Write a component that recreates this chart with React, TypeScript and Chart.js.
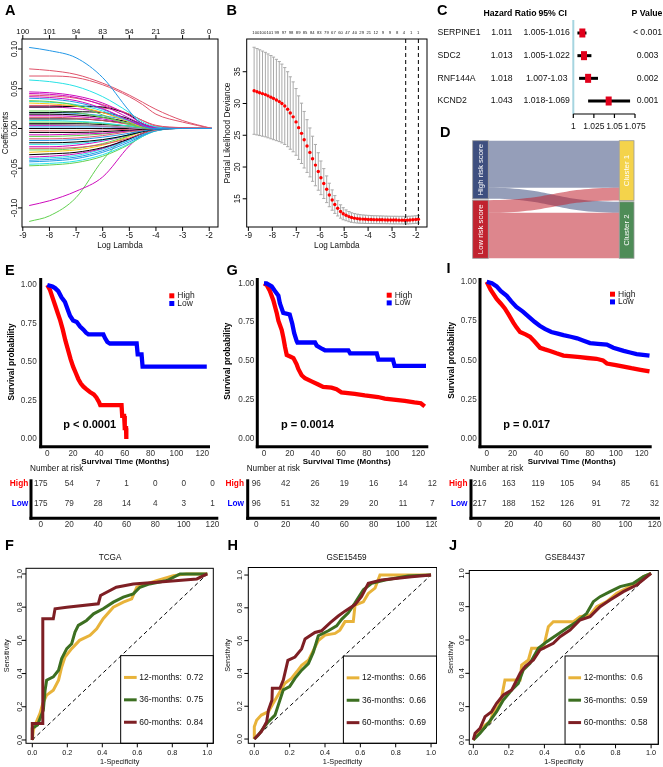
import React, { useEffect, useRef } from "react";
import { Chart, registerables } from "chart.js";

Chart.register(...registerables);

const FONT = "'Liberation Sans', Arial, Helvetica, sans-serif";
const HALF_PI = Math.PI / 2;

/* ============================ DATA ============================ */
// ---- A: LASSO coefficient paths (values at the log-lambda grid) ----
const lassoLogLambda = [-8.76, -8, -7, -6, -5, -4.5, -4, -3, -1.9];
const lassoPaths = [
  [0.102, 0.098, 0.089, 0.064, 0.022, 0.004, 0, 0, 0],
  [0.075, 0.073, 0.068, 0.057, 0.042, 0.033, 0.024, 0.01, 0],
  [0.066, 0.066, 0.064, 0.055, 0.04, 0.03, 0.018, 0.008, 0],
  [0.061, 0.059, 0.053, 0.04, 0.02, 0.008, 0.002, 0, 0],
  [0.046, 0.045, 0.041, 0.032, 0.016, 0.006, 0.001, 0, 0],
  [0.044, 0.043, 0.039, 0.029, 0.013, 0.005, 0.001, 0, 0],
  [0.042, 0.041, 0.038, 0.03, 0.018, 0.01, 0.004, 0.001, 0],
  [0.04, 0.039, 0.035, 0.025, 0.01, 0.003, 0, 0, 0],
  [0.038, 0.037, 0.033, 0.024, 0.01, 0.003, 0, 0, 0],
  [0.035, 0.034, 0.029, 0.017, 0.005, 0.001, 0, 0, 0],
  [0.034, 0.033, 0.03, 0.022, 0.009, 0.003, 0, 0, 0],
  [0.032, 0.031, 0.028, 0.02, 0.008, 0.002, 0, 0, 0],
  [0.027, 0.027, 0.028, 0.027, 0.017, 0.006, 0.001, 0, 0],
  [0.029, 0.029, 0.028, 0.026, 0.018, 0.01, 0.003, 0.001, 0],
  [0.027, 0.027, 0.025, 0.02, 0.01, 0.004, 0.001, 0, 0],
  [0.02, 0.02, 0.021, 0.02, 0.012, 0.005, 0.001, 0, 0],
  [0.022, 0.022, 0.02, 0.014, 0.006, 0.002, 0, 0, 0],
  [0.02, 0.02, 0.019, 0.016, 0.01, 0.005, 0.002, 0, 0],
  [0.018, 0.018, 0.017, 0.014, 0.008, 0.004, 0.001, 0, 0],
  [0.016, 0.016, 0.015, 0.012, 0.006, 0.002, 0, 0, 0],
  [0.014, 0.014, 0.013, 0.01, 0.005, 0.002, 0, 0, 0],
  [0.012, 0.012, 0.012, 0.01, 0.006, 0.003, 0.001, 0, 0],
  [0.01, 0.01, 0.009, 0.007, 0.003, 0.001, 0, 0, 0],
  [0.008, 0.008, 0.008, 0.006, 0.003, 0.001, 0, 0, 0],
  [0.006, 0.006, 0.006, 0.005, 0.003, 0.001, 0, 0, 0],
  [0.005, 0.005, 0.004, 0.003, 0.001, 0, 0, 0, 0],
  [0.004, 0.004, 0.004, 0.003, 0.001, 0, 0, 0, 0],
  [0.002, 0.002, 0.002, 0.002, 0.001, 0, 0, 0, 0],
  [0, 0, 0, 0, 0, 0, 0, 0, 0],
  [-0.003, -0.003, -0.003, -0.002, -0.001, 0, 0, 0, 0],
  [-0.005, -0.005, -0.005, -0.004, -0.002, -0.001, 0, 0, 0],
  [-0.008, -0.008, -0.007, -0.006, -0.003, -0.001, 0, 0, 0],
  [-0.01, -0.01, -0.009, -0.007, -0.003, -0.001, 0, 0, 0],
  [-0.013, -0.013, -0.012, -0.009, -0.004, -0.002, 0, 0, 0],
  [-0.015, -0.015, -0.014, -0.011, -0.006, -0.003, -0.001, 0, 0],
  [-0.018, -0.018, -0.017, -0.014, -0.008, -0.004, -0.001, 0, 0],
  [-0.02, -0.02, -0.019, -0.015, -0.008, -0.004, -0.001, 0, 0],
  [-0.023, -0.023, -0.021, -0.016, -0.008, -0.003, 0, 0, 0],
  [-0.025, -0.025, -0.024, -0.02, -0.012, -0.006, -0.002, 0, 0],
  [-0.027, -0.027, -0.025, -0.019, -0.009, -0.003, 0, 0, 0],
  [-0.03, -0.029, -0.027, -0.021, -0.01, -0.004, 0, 0, 0],
  [-0.033, -0.032, -0.03, -0.024, -0.013, -0.006, -0.001, 0, 0],
  [-0.036, -0.035, -0.032, -0.025, -0.013, -0.006, -0.001, 0, 0],
  [-0.038, -0.037, -0.034, -0.026, -0.014, -0.007, -0.002, 0, 0],
  [-0.04, -0.039, -0.036, -0.028, -0.015, -0.008, -0.002, 0, 0],
  [-0.042, -0.041, -0.038, -0.03, -0.017, -0.009, -0.003, 0, 0],
  [-0.045, -0.044, -0.041, -0.033, -0.019, -0.01, -0.003, 0, 0],
  [-0.047, -0.046, -0.043, -0.035, -0.02, -0.01, -0.003, 0, 0],
  [-0.097, -0.091, -0.079, -0.061, -0.022, -0.008, -0.002, 0, 0],
  [-0.117, -0.11, -0.087, -0.04, -0.007, -0.002, 0, 0, 0],
];
const lassoPathColor = "brrcmmrmbgcykrmkgbkmrkcgkambkrkmgrbkcmrgykmcbbcgmg";
const lassoXTicks = [-9, -8, -7, -6, -5, -4, -3, -2];
const lassoTopLabels = ["100", "101", "94", "83", "54", "21", "8", "0"];
const lassoYTicks = [-0.1, -0.05, 0, 0.05, 0.1];

// ---- B: cross-validation deviance ----
const cvLogLambda = [
  -8.76, -8.64, -8.53, -8.41, -8.29, -8.18, -8.06, -7.95, -7.83, -7.71,
  -7.6, -7.48, -7.36, -7.25, -7.13, -7.01, -6.9, -6.78, -6.67, -6.55,
  -6.43, -6.32, -6.2, -6.08, -5.97, -5.85, -5.73, -5.62, -5.5, -5.39,
  -5.27, -5.15, -5.04, -4.92, -4.8, -4.69, -4.57, -4.45, -4.34, -4.22,
  -4.11, -3.99, -3.87, -3.76, -3.64, -3.52, -3.41, -3.29, -3.18, -3.06,
  -2.94, -2.83, -2.71, -2.59, -2.48, -2.36, -2.25, -2.13, -2.01, -1.9,
];
const cvMean = [
  32.0, 31.85, 31.7, 31.55, 31.4, 31.2, 31.0, 30.8, 30.55, 30.3,
  30.0, 29.6, 29.1, 28.5, 27.9, 27.1, 26.2, 25.3, 24.3, 23.3,
  22.3, 21.3, 20.3, 19.3, 18.3, 17.4, 16.5, 15.6, 14.8, 14.1,
  13.5, 13.0, 12.65, 12.4, 12.2, 12.05, 11.95, 11.88, 11.83, 11.8,
  11.77, 11.75, 11.73, 11.72, 11.71, 11.7, 11.69, 11.68, 11.67, 11.66,
  11.65, 11.65, 11.64, 11.64, 11.63, 11.64, 11.66, 11.69, 11.73, 11.78,
];
const cvSd = [
  6.85, 6.8, 6.75, 6.7, 6.65, 6.6, 6.55, 6.5, 6.4, 6.3,
  6.2, 6.05, 5.9, 5.7, 5.5, 5.25, 5.0, 4.75, 4.45, 4.15,
  3.85, 3.55, 3.25, 2.95, 2.65, 2.35, 2.1, 1.85, 1.6, 1.4,
  1.2, 1.05, 0.95, 0.85, 0.8, 0.75, 0.72, 0.7, 0.68, 0.66,
  0.65, 0.64, 0.63, 0.62, 0.62, 0.61, 0.61, 0.6, 0.6, 0.6,
  0.6, 0.6, 0.6, 0.6, 0.6, 0.6, 0.6, 0.6, 0.6, 0.6,
];
const cvTopAt = [
  -8.69, -8.4, -8.1, -7.81, -7.51, -7.22, -6.92, -6.63, -6.33, -6.04, -5.74, -5.45,
  -5.15, -4.86, -4.56, -4.27, -3.97, -3.68, -3.38, -3.09, -2.79, -2.5, -2.2, -1.91,
];
const cvTopLabels = [
  "100", "100", "101", "99", "97", "98", "89", "85", "84", "83", "79", "67",
  "60", "47", "40", "29", "21", "12", "9", "9", "8", "4", "1", "1",
];
const cvXTicks = [-9, -8, -7, -6, -5, -4, -3, -2];
const cvYTicks = [15, 20, 25, 30, 35];
const cvCutoffs = [-2.43, -1.9];

// ---- C: multivariate Cox forest ----
const forestGenes = ["SERPINE1", "SDC2", "RNF144A", "KCND2"];
const forestHR = [1.011, 1.013, 1.018, 1.043];
const forestLow = [1.005, 1.005, 1.007, 1.018];
const forestHigh = [1.016, 1.022, 1.03, 1.069];
const forestP = ["< 0.001", "0.003", "0.002", "0.001"];
const forestTicks = [1, 1.025, 1.05, 1.075];

// ---- D: risk group -> cluster alluvial ----
const riskGroups = ["High risk score", "Low risk score"];
const clusterNames = ["Cluster 1", "Cluster 2"];
const flowHigh = [142, 33];
const flowLow = [38, 137];

// ---- E, G, I: Kaplan-Meier ----
const kmXTicks = [0, 20, 40, 60, 80, 100, 120];
const kmYTicks = [0, 0.25, 0.5, 0.75, 1];
const tcgaHighT = [0, 2, 4, 6, 8, 10, 12, 14, 16, 18, 20, 22, 24, 26, 28, 30, 33, 36, 38, 40, 41, 57.5, 58, 59.5, 60, 61, 61.2];
const tcgaHighS = [1.0, 0.97, 0.92, 0.87, 0.82, 0.77, 0.71, 0.64, 0.58, 0.52, 0.47, 0.43, 0.39, 0.36, 0.34, 0.325, 0.305, 0.29, 0.27, 0.24, 0.22, 0.22, 0.15, 0.15, 0.07, 0.07, 0.0];
const tcgaLowT = [0, 4, 6, 8.5, 11, 13.7, 16.3, 17.6, 20, 22.8, 25.4, 28, 30, 31.8, 43.4, 44.7, 46.5, 48.5, 69.2, 70, 73, 73.8, 123.5];
const tcgaLowS = [1.0, 0.99, 0.98, 0.96, 0.92, 0.89, 0.83, 0.8, 0.77, 0.76, 0.73, 0.71, 0.69, 0.68, 0.68, 0.655, 0.63, 0.62, 0.62, 0.55, 0.55, 0.47, 0.47];
const g15HighT = [0, 2, 4.6, 7.3, 9.9, 11.2, 13.8, 15.1, 16.4, 17.7, 20.3, 22.9, 25.4, 26.7, 29.3, 31.9, 37, 42.2, 46, 52.5, 56.4, 60.2, 70.6, 78.4, 88.7, 94, 109.5, 117, 122, 125];
const g15HighS = [1.0, 0.99, 0.95, 0.89, 0.81, 0.76, 0.7, 0.65, 0.59, 0.54, 0.53, 0.52, 0.48, 0.45, 0.41, 0.39, 0.37, 0.35, 0.335, 0.33, 0.32, 0.3, 0.29, 0.28, 0.27, 0.26, 0.245, 0.235, 0.23, 0.21];
const g15LowT = [0, 2, 6, 8.5, 11.2, 12.4, 15, 20, 22, 23.5, 25.4, 26, 39.7, 41, 45, 47.4, 65.6, 67, 87.7, 89, 100.3, 101.6, 126];
const g15LowS = [1.0, 1.0, 0.98, 0.95, 0.92, 0.87, 0.81, 0.8, 0.74, 0.68, 0.63, 0.62, 0.62, 0.6, 0.58, 0.57, 0.57, 0.55, 0.55, 0.51, 0.51, 0.47, 0.47];
const g84HighT = [0, 3, 7.7, 11, 14, 17, 20.6, 23, 25.8, 30, 33.5, 37, 41.3, 45, 49, 54, 59.4, 66, 72.3, 78, 85, 90, 93, 100, 106, 112, 119, 126];
const g84HighS = [1.0, 0.95, 0.89, 0.86, 0.83, 0.79, 0.74, 0.71, 0.68, 0.665, 0.65, 0.62, 0.58, 0.57, 0.56, 0.545, 0.53, 0.525, 0.52, 0.515, 0.51, 0.5, 0.48, 0.47, 0.46, 0.45, 0.44, 0.43];
const g84LowT = [0, 4, 7.7, 11, 15.5, 19, 23, 28, 33.5, 37, 41, 45, 50, 55, 59.4, 65, 70, 75, 80, 86, 93, 98, 106, 111, 116, 121, 126];
const g84LowS = [1.0, 0.99, 0.97, 0.94, 0.91, 0.875, 0.84, 0.81, 0.77, 0.745, 0.72, 0.7, 0.68, 0.67, 0.66, 0.65, 0.64, 0.625, 0.61, 0.605, 0.6, 0.58, 0.56, 0.55, 0.54, 0.535, 0.53];

// ---- risk tables ----
const riskTimes = [0, 20, 40, 60, 80, 100, 120];
const tcgaAtRiskHigh = [175, 54, 7, 1, 0, 0, 0];
const tcgaAtRiskLow = [175, 79, 28, 14, 4, 3, 1];
const g15AtRiskHigh = [96, 42, 26, 19, 16, 14, 12];
const g15AtRiskLow = [96, 51, 32, 29, 20, 11, 7];
const g84AtRiskHigh = [216, 163, 119, 105, 94, 85, 61];
const g84AtRiskLow = [217, 188, 152, 126, 91, 72, 32];

// ---- F, H, J: time-dependent ROC ----
const rocTicks = [0, 0.2, 0.4, 0.6, 0.8, 1];
const rocMonths = [12, 36, 60];
const tcga12Fpr = [0, 0.006, 0.02, 0.044, 0.06, 0.082, 0.12, 0.15, 0.168, 0.187, 0.225, 0.27, 0.33, 0.368, 0.405, 0.463, 0.52, 0.568, 0.597, 0.654, 0.71, 0.806, 0.88, 1];
const tcga12Tpr = [0, 0.06, 0.1, 0.16, 0.22, 0.27, 0.3, 0.36, 0.44, 0.5, 0.55, 0.6, 0.63, 0.67, 0.73, 0.8, 0.83, 0.85, 0.92, 0.94, 0.96, 0.99, 1, 1];
const tcga36Fpr = [0, 0, 0.03, 0.063, 0.073, 0.082, 0.12, 0.15, 0.168, 0.197, 0.225, 0.244, 0.263, 0.31, 0.35, 0.405, 0.463, 0.52, 0.577, 0.615, 0.67, 0.77, 0.844, 1];
const tcga36Tpr = [0, 0.07, 0.09, 0.18, 0.3, 0.36, 0.38, 0.42, 0.49, 0.55, 0.58, 0.65, 0.69, 0.72, 0.76, 0.79, 0.83, 0.86, 0.88, 0.92, 0.94, 0.96, 1, 1];
const tcga60Fpr = [0, 0, 0.06, 0.06, 0.12, 0.13, 0.197, 0.377, 0.39, 0.48, 0.577, 0.71, 0.94, 1];
const tcga60Tpr = [0, 0.1, 0.1, 0.73, 0.73, 0.79, 0.8, 0.82, 0.87, 0.92, 0.94, 0.95, 0.97, 1];
const tcgaAuc = [0.72, 0.75, 0.84];
const g15_12Fpr = [0, 0, 0.013, 0.04, 0.08, 0.107, 0.145, 0.173, 0.21, 0.24, 0.268, 0.306, 0.334, 0.362, 0.4, 0.457, 0.484, 0.513, 0.56, 0.57, 0.617, 0.645, 0.683, 0.711, 1];
const g15_12Tpr = [0, 0.075, 0.115, 0.146, 0.167, 0.218, 0.289, 0.34, 0.37, 0.41, 0.45, 0.48, 0.54, 0.6, 0.634, 0.644, 0.664, 0.716, 0.716, 0.817, 0.837, 0.888, 0.92, 1, 1];
const g15_36Fpr = [0, 0.023, 0.05, 0.08, 0.117, 0.145, 0.164, 0.2, 0.23, 0.268, 0.306, 0.334, 0.362, 0.419, 0.466, 0.494, 0.532, 0.57, 0.617, 0.664, 0.74, 0.87, 1];
const g15_36Tpr = [0, 0.024, 0.065, 0.106, 0.146, 0.238, 0.3, 0.32, 0.37, 0.42, 0.46, 0.53, 0.63, 0.66, 0.69, 0.73, 0.77, 0.83, 0.91, 0.95, 0.97, 0.994, 1];
const g15_60Fpr = [0, 0.04, 0.07, 0.08, 0.1, 0.102, 0.145, 0.164, 0.19, 0.23, 0.268, 0.287, 0.343, 0.38, 0.43, 0.475, 0.513, 0.57, 0.607, 0.645, 0.72, 0.89, 1];
const g15_60Tpr = [0, 0.045, 0.106, 0.177, 0.238, 0.31, 0.31, 0.36, 0.48, 0.5, 0.55, 0.61, 0.65, 0.66, 0.71, 0.75, 0.78, 0.82, 0.87, 0.95, 0.97, 0.99, 1];
const g15Auc = [0.66, 0.66, 0.69];
const g84_12Fpr = [0, 0.02, 0.047, 0.066, 0.094, 0.113, 0.141, 0.16, 0.178, 0.263, 0.272, 0.31, 0.328, 0.394, 0.422, 0.45, 0.563, 0.6, 0.657, 0.694, 0.75, 0.807, 0.88, 0.957, 1];
const g84_12Tpr = [0, 0.03, 0.06, 0.09, 0.11, 0.17, 0.2, 0.26, 0.36, 0.36, 0.45, 0.48, 0.55, 0.55, 0.68, 0.71, 0.71, 0.74, 0.75, 0.8, 0.83, 0.88, 0.92, 0.98, 1];
const g84_36Fpr = [0, 0.038, 0.084, 0.131, 0.169, 0.216, 0.253, 0.281, 0.319, 0.366, 0.413, 0.469, 0.525, 0.582, 0.638, 0.675, 0.713, 0.769, 0.826, 0.9, 0.957, 1];
const g84_36Tpr = [0, 0.04, 0.1, 0.17, 0.24, 0.3, 0.34, 0.42, 0.46, 0.55, 0.59, 0.63, 0.67, 0.71, 0.76, 0.83, 0.86, 0.89, 0.92, 0.94, 0.98, 1];
const g84_60Fpr = [0, 0.01, 0.038, 0.066, 0.103, 0.131, 0.169, 0.216, 0.263, 0.291, 0.338, 0.375, 0.45, 0.488, 0.544, 0.6, 0.657, 0.713, 0.769, 0.844, 0.919, 1];
const g84_60Tpr = [0, 0.04, 0.07, 0.14, 0.17, 0.22, 0.27, 0.3, 0.4, 0.44, 0.48, 0.54, 0.58, 0.62, 0.66, 0.72, 0.74, 0.8, 0.84, 0.89, 0.93, 1];
const g84Auc = [0.6, 0.59, 0.58];

/* ============================ STYLE ============================ */
const PAL: any = { k: "#000000", r: "#DF536B", g: "#61D04F", b: "#2297E6", c: "#28E2E5", m: "#CD0BBC", y: "#F5C710", a: "#9E9E9E" };
const KM_HIGH = "#FF0000";
const KM_LOW = "#0000FF";
const ROC_COLORS = ["#E8B33A", "#3C6F21", "#7E1F24"];
const NODE_COLORS_L = ["#3E4F7F", "#C1232F"];
const NODE_COLORS_R = ["#F4D34B", "#4E8C57"];

/* ============================ HELPERS ============================ */
type Box = { x: number; y: number; w: number; h: number; area: number[] };
type D = { ctx: CanvasRenderingContext2D; X: (v: number) => number; Y: (v: number) => number };

function txt(ctx: CanvasRenderingContext2D, s: string, x: number, y: number, size: number, o: any = {}) {
  ctx.save();
  ctx.font = `${o.bold ? "bold " : ""}${size}px ${FONT}`;
  ctx.fillStyle = o.color || "#000";
  ctx.textAlign = o.align || "center";
  ctx.textBaseline = o.base || "middle";
  ctx.translate(x, y);
  if (o.rot) ctx.rotate(o.rot);
  ctx.fillText(s, 0, 0);
  ctx.restore();
}

function seg(ctx: CanvasRenderingContext2D, x1: number, y1: number, x2: number, y2: number, color = "#000", w = 1, dash: number[] = []) {
  ctx.save();
  ctx.beginPath();
  ctx.strokeStyle = color;
  ctx.lineWidth = w;
  ctx.setLineDash(dash);
  ctx.moveTo(x1, y1);
  ctx.lineTo(x2, y2);
  ctx.stroke();
  ctx.restore();
}

function letter(ctx: CanvasRenderingContext2D, s: string, x: number, y: number) {
  txt(ctx, s, x, y, 14.5, { bold: true, align: "left", base: "alphabetic" });
}

function rFrame(d: D, area: number[], xt: number[], yt: number[], fx: (v: number) => string, fy: (v: number) => string, o: any) {
  const [L, T, R, B] = area;
  const ctx = d.ctx;
  const tk = o.tick ?? 4;
  ctx.save();
  ctx.strokeStyle = "#000";
  ctx.lineWidth = 1;
  ctx.strokeRect(L, T, R - L, B - T);
  ctx.restore();
  xt.forEach((v) => {
    const x = d.X(v);
    seg(ctx, x, B, x, B + tk);
    txt(ctx, fx(v), x, o.xLabY, o.fs, { color: o.color || "#111" });
  });
  yt.forEach((v) => {
    const y = d.Y(v);
    seg(ctx, L - tk, y, L, y);
    txt(ctx, fy(v), o.yLabX, y, o.fs, { rot: -HALF_PI, color: o.color || "#111" });
  });
}

function baseConfig(box: Box, xr: number[], yr: number[], datasets: any[], draw: (d: D) => void, extra: any = {}) {
  const [L, T, R, B] = box.area;
  const hook = (fn: (d: D) => void) => (chart: any) => {
    const ctx = chart.ctx as CanvasRenderingContext2D;
    ctx.save();
    ctx.translate(-box.x, -box.y);
    const X = (v: number) => chart.scales.x.getPixelForValue(v) + box.x;
    const Y = (v: number) => chart.scales.y.getPixelForValue(v) + box.y;
    fn({ ctx, X, Y });
    ctx.restore();
  };
  const plugin: any = { id: "deco", afterDraw: hook(draw) };
  if (extra.under) plugin.beforeDatasetsDraw = hook(extra.under);
  return {
    type: "line",
    data: { datasets },
    options: {
      responsive: false,
      maintainAspectRatio: false,
      animation: false,
      devicePixelRatio: 1,
      events: [],
      layout: { padding: { left: L - box.x, top: T - box.y, right: box.x + box.w - R, bottom: box.y + box.h - B } },
      elements: { point: { radius: 0 }, line: { tension: 0 } },
      plugins: { legend: { display: false }, tooltip: { enabled: false }, title: { display: false } },
      scales: {
        x: { type: "linear", display: false, min: xr[0], max: xr[1] },
        y: { type: "linear", display: false, min: yr[0], max: yr[1], reverse: !!extra.reverseY },
      },
    },
    plugins: [plugin],
  };
}

function ChartBox({ box, build }: { box: Box; build: (b: Box) => any }) {
  const ref = useRef<HTMLCanvasElement | null>(null);
  useEffect(() => {
    const chart = new Chart(ref.current as HTMLCanvasElement, build(box));
    return () => chart.destroy();
  }, []);
  return (
    <canvas
      ref={ref}
      width={box.w}
      height={box.h}
      style={{ position: "absolute", left: box.x, top: box.y, width: box.w, height: box.h }}
    />
  );
}

/* ============================ PANELS ============================ */
const boxA: Box = { x: 0, y: 0, w: 222, h: 252, area: [22, 39, 218, 227] };
function buildA(b: Box) {
  const datasets = lassoPaths.map((p, i) => ({
    data: p.map((v, j) => ({ x: lassoLogLambda[j], y: v })),
    borderColor: PAL[lassoPathColor[i]],
    borderWidth: 1,
    cubicInterpolationMode: "monotone",
  }));
  return baseConfig(b, [-9.03, -1.67], [-0.124, 0.1126], datasets, (d) => {
    const { ctx } = d;
    const [L, T, R, B] = b.area;
    rFrame(d, b.area, lassoXTicks, lassoYTicks, (v) => String(v), (v) => v.toFixed(2), { fs: 8.2, xLabY: 236, yLabX: 14.5 });
    lassoXTicks.forEach((v, i) => {
      const x = d.X(v);
      seg(ctx, x, T, x, T - 4);
      txt(ctx, lassoTopLabels[i], x, 32, 7.8, { color: "#111" });
    });
    txt(ctx, "Log Lambda", (L + R) / 2, 245.5, 8.2, { color: "#111" });
    txt(ctx, "Coefficients", 5.5, (T + B) / 2, 8.2, { rot: -HALF_PI, color: "#111" });
    letter(ctx, "A", 5, 15);
  });
}

const boxB: Box = { x: 222, y: 0, w: 218, h: 252, area: [246.7, 39, 427, 227] };
function buildB(b: Box) {
  const datasets = [
    {
      data: cvLogLambda.map((x, i) => ({ x, y: cvMean[i] })),
      showLine: false,
      pointRadius: 1.7,
      pointBackgroundColor: "#FF0000",
      pointBorderWidth: 0,
    },
  ];
  return baseConfig(
    b,
    [-9.07, -1.54],
    [10.56, 40.15],
    datasets,
    (d) => {
      const { ctx } = d;
      const [L, T, R, B] = b.area;
      rFrame(d, b.area, cvXTicks, cvYTicks, (v) => String(v), (v) => String(v), { fs: 8.2, xLabY: 236, yLabX: 238 });
      cvCutoffs.forEach((v) => seg(ctx, d.X(v), T, d.X(v), B, "#000", 1, [4, 3]));
      cvTopAt.forEach((v, i) => txt(ctx, cvTopLabels[i], d.X(v), 33, 4.2, { color: "#222" }));
      txt(ctx, "Log Lambda", (L + R) / 2, 245.5, 8.2, { color: "#111" });
      txt(ctx, "Partial Likelihood Deviance", 227.3, (T + B) / 2, 8.4, { rot: -HALF_PI, color: "#111" });
      letter(ctx, "B", 226.5, 15);
    },
    {
      under: (d: D) => {
        const { ctx } = d;
        cvLogLambda.forEach((lx, i) => {
          const x = d.X(lx);
          const y1 = d.Y(cvMean[i] + cvSd[i]);
          const y2 = d.Y(cvMean[i] - cvSd[i]);
          seg(ctx, x, y1, x, y2, "#AAAAAA", 1);
          seg(ctx, x - 1.6, y1, x + 1.6, y1, "#AAAAAA", 1);
          seg(ctx, x - 1.6, y2, x + 1.6, y2, "#AAAAAA", 1);
        });
      },
    }
  );
}

const boxC: Box = { x: 436, y: 0, w: 227, h: 135, area: [573.3, 20, 635, 114] };
function buildC(b: Box) {
  return baseConfig(
    b,
    [1, 1.075],
    [-0.573, 3.573],
    [],
    (d) => {
      const { ctx } = d;
      const [L, T, R, B] = b.area;
      seg(ctx, d.X(1), T, d.X(1), B, "#A6D5E0", 2);
      forestGenes.forEach((g, i) => {
        const y = d.Y(i);
        seg(ctx, d.X(forestLow[i]), y, d.X(forestHigh[i]), y, "#000", 3);
        ctx.fillStyle = "#E0001B";
        ctx.fillRect(d.X(forestHR[i]) - 3, y - 4.5, 6, 9);
        txt(ctx, g, 437.5, y, 8.7, { align: "left", color: "#111" });
        txt(ctx, String(forestHR[i]), 501.7, y, 8.7, { color: "#111" });
        txt(ctx, `${forestLow[i]}-${forestHigh[i]}`, 546.7, y, 8.7, { color: "#111" });
        txt(ctx, forestP[i], 647.5, y, 8.7, { color: "#111" });
      });
      seg(ctx, d.X(1), B, d.X(1.075), B, "#000", 1.2);
      forestTicks.forEach((v) => {
        const x = d.X(v);
        seg(ctx, x, B, x, B + 4, "#000", 1.2);
        txt(ctx, String(v), x, 127, 8.5, { color: "#111" });
      });
      txt(ctx, "Hazard Ratio", 510, 14, 8.7, { bold: true });
      txt(ctx, "95% CI", 552.7, 14, 8.7, { bold: true });
      txt(ctx, "P Value", 647, 14, 8.7, { bold: true });
      letter(ctx, "C", 437, 15);
    },
    { reverseY: true }
  );
}

const boxD: Box = { x: 436, y: 122, w: 227, h: 140, area: [472.7, 140.7, 634, 258.3] };
const NODE_W = 0.0967;
const RIGHT_X0 = 0.9087;
const NODE_GAP = 4;
function buildD(b: Box) {
  const flows = [flowHigh, flowLow];
  const riskTot = flows.map((f) => f[0] + f[1]);
  const clTot = [0, 1].map((j) => flows[0][j] + flows[1][j]);
  const total = riskTot[0] + riskTot[1] + NODE_GAP;
  return baseConfig(
    b,
    [0, 1],
    [0, total],
    [],
    (d) => {
      const { ctx, X, Y } = d;
      const leftStart = [0, riskTot[0] + NODE_GAP];
      const rightStart = [0, clTot[0] + NODE_GAP];
      const xa = X(NODE_W);
      const xb = X(RIGHT_X0);
      const xm = (xa + xb) / 2;
      flows.forEach((f, i) =>
        f.forEach((n, j) => {
          const l0 = leftStart[i] + (j === 0 ? 0 : f[0]);
          const r0 = rightStart[j] + (i === 0 ? 0 : flows[0][j]);
          ctx.beginPath();
          ctx.moveTo(xa, Y(l0));
          ctx.bezierCurveTo(xm, Y(l0), xm, Y(r0), xb, Y(r0));
          ctx.lineTo(xb, Y(r0 + n));
          ctx.bezierCurveTo(xm, Y(r0 + n), xm, Y(l0 + n), xa, Y(l0 + n));
          ctx.closePath();
          ctx.fillStyle = i === 0 ? "rgba(62,79,127,0.55)" : "rgba(193,35,47,0.55)";
          ctx.fill();
        })
      );
      const node = (x0: number, x1: number, s: number, n: number, col: string, label: string) => {
        const px0 = X(x0), px1 = X(x1), py0 = Y(s), py1 = Y(s + n);
        ctx.fillStyle = col;
        ctx.fillRect(px0, py0, px1 - px0, py1 - py0);
        ctx.strokeStyle = "#9a9a9a";
        ctx.lineWidth = 0.8;
        ctx.strokeRect(px0, py0, px1 - px0, py1 - py0);
        txt(ctx, label, (px0 + px1) / 2, (py0 + py1) / 2, 7.8, { color: "#fff", rot: -HALF_PI });
      };
      riskGroups.forEach((g, i) => node(0, NODE_W, leftStart[i], riskTot[i], NODE_COLORS_L[i], g));
      clusterNames.forEach((c, j) => node(RIGHT_X0, 1, rightStart[j], clTot[j], NODE_COLORS_R[j], c));
      letter(ctx, "D", 440, 137);
    },
    { reverseY: true }
  );
}

function buildKM(b: Box, xr: number[], yr: number[], hiT: number[], hiS: number[], loT: number[], loS: number[], lay: any) {
  const datasets = [
    { data: loT.map((t, i) => ({ x: t, y: loS[i] })), borderColor: KM_LOW, borderWidth: 4.3, order: 1 },
    { data: hiT.map((t, i) => ({ x: t, y: hiS[i] })), borderColor: KM_HIGH, borderWidth: 4.3, order: 2 },
  ];
  return baseConfig(b, xr, yr, datasets, (d) => {
    const { ctx } = d;
    const [L, T, R, B] = b.area;
    seg(ctx, L, T, L, B + 1.5, "#000", 3);
    seg(ctx, L - 1.5, B, R, B, "#000", 3);
    kmYTicks.forEach((v) => txt(ctx, v.toFixed(2), lay.yLabR, d.Y(v), 8.2, { align: "right", color: "#333" }));
    kmXTicks.forEach((v) => txt(ctx, String(v), d.X(v), 453.3, 8.2, { color: "#333" }));
    txt(ctx, "Survival probability", lay.survX, d.Y(0.5), 8.3, { bold: true, rot: -HALF_PI });
    txt(ctx, "Survival Time (Months)", lay.timeX, 461.7, 8, { bold: true });
    txt(ctx, lay.p, lay.pX, 425, 11, { bold: true, align: "left" });
    ctx.fillStyle = KM_HIGH;
    ctx.fillRect(lay.legX, lay.legY, 5, 5);
    ctx.fillStyle = KM_LOW;
    ctx.fillRect(lay.legX, lay.legY + 7.7, 5, 5);
    txt(ctx, "High", lay.legX + 8, lay.legY + 2.6, 8.5, { align: "left", color: "#222" });
    txt(ctx, "Low", lay.legX + 8, lay.legY + 10.3, 8.5, { align: "left", color: "#222" });
    letter(ctx, lay.letter, lay.letterX, lay.letterY);
  });
}

function buildRisk(b: Box, xr: number[], yr: number[], hi: number[], lo: number[], lay: any) {
  return baseConfig(b, xr, yr, [], (d) => {
    const { ctx } = d;
    const [L, T, R, B] = b.area;
    seg(ctx, L, T, L, B + 1.5, "#000", 3);
    seg(ctx, L - 1.5, B, R, B, "#000", 3);
    riskTimes.forEach((t, i) => {
      txt(ctx, String(hi[i]), d.X(t), d.Y(1), 8.2, { color: "#333" });
      txt(ctx, String(lo[i]), d.X(t), d.Y(0), 8.2, { color: "#333" });
      txt(ctx, String(t), d.X(t), 524.3, 8.2, { color: "#333" });
    });
    txt(ctx, "High", lay.rowR, d.Y(1), 8.3, { bold: true, align: "right", color: KM_HIGH });
    txt(ctx, "Low", lay.rowR, d.Y(0), 8.3, { bold: true, align: "right", color: KM_LOW });
    txt(ctx, "Number at risk", lay.numX, 469, 8.2, { align: "left", color: "#111" });
  });
}

function buildROC(b: Box, xr: number[], yr: number[], curves: number[][][], auc: number[], lay: any) {
  const datasets: any[] = [
    { data: [{ x: 0, y: 0 }, { x: 1, y: 1 }], borderColor: "#000", borderWidth: 1, borderDash: [4, 3], order: 9 },
  ];
  curves.forEach((c, k) =>
    datasets.push({
      data: c[0].map((f, i) => ({ x: f, y: c[1][i] })),
      borderColor: ROC_COLORS[k],
      borderWidth: 3,
      order: 3 - k,
    })
  );
  return baseConfig(b, xr, yr, datasets, (d) => {
    const { ctx } = d;
    const [L, T, R, B] = b.area;
    rFrame(d, b.area, rocTicks, rocTicks, (v) => v.toFixed(1), (v) => v.toFixed(1), { fs: 7.3, xLabY: 752.7, yLabX: lay.yLabX });
    txt(ctx, "1-Specificity", (L + R) / 2, 761.5, 7.3, { color: "#111" });
    txt(ctx, "Sensitivity", lay.sensX, (T + B) / 2, 7.3, { rot: -HALF_PI, color: "#111" });
    txt(ctx, lay.title, lay.titleX, 558, 8.2, { color: "#111" });
    const lx = d.X(lay.leg[0]);
    const ly = d.Y(lay.leg[1]);
    ctx.save();
    ctx.strokeStyle = "#000";
    ctx.lineWidth = 1;
    ctx.strokeRect(lx, ly, R - lx, B - ly);
    ctx.restore();
    rocMonths.forEach((m, k) => {
      const y = ly + 21.8 + k * 22.4;
      seg(ctx, lx + 3.3, y, lx + 16, y, ROC_COLORS[k], 3);
      txt(ctx, `${m}-months:  ${auc[k]}`, lx + 18.7, y, 8.5, { align: "left", color: "#111" });
    });
    letter(ctx, lay.letter, lay.letterX, 550);
  });
}

const boxE: Box = { x: 0, y: 255, w: 222, h: 212, area: [40.7, 278, 210, 446.7] };
const boxG: Box = { x: 215, y: 255, w: 222, h: 212, area: [257.3, 278, 428.3, 446.7] };
const boxI: Box = { x: 430, y: 255, w: 233, h: 212, area: [480, 278, 651.7, 446.7] };
const boxEt: Box = { x: 0, y: 460, w: 222, h: 72, area: [31, 479.3, 218.3, 518.3] };
const boxGt: Box = { x: 215, y: 460, w: 222, h: 72, area: [247.7, 479.3, 436.7, 518.3] };
const boxIt: Box = { x: 430, y: 460, w: 233, h: 72, area: [471, 479.3, 660, 518.3] };
const boxF: Box = { x: 0, y: 535, w: 222, h: 232, area: [26, 568.3, 213.3, 743.3] };
const boxH: Box = { x: 215, y: 535, w: 222, h: 232, area: [248.3, 567.5, 436.7, 743.3] };
const boxJ: Box = { x: 430, y: 535, w: 233, h: 232, area: [469.3, 570.5, 658.3, 744.3] };

const buildE = (b: Box) =>
  buildKM(b, [-5.1, 126], [-0.05, 1.0455], tcgaHighT, tcgaHighS, tcgaLowT, tcgaLowS, {
    yLabR: 36.7, survX: 11.7, timeX: 125.3, p: "p < 0.0001", pX: 63.3, legX: 169.3, legY: 293.3, letter: "E", letterX: 5, letterY: 275,
  });
const buildG = (b: Box) =>
  buildKM(b, [-5.2, 127.8], [-0.049, 1.034], g15HighT, g15HighS, g15LowT, g15LowS, {
    yLabR: 254.3, survX: 228, timeX: 346.7, p: "p = 0.0014", pX: 281, legX: 386.7, legY: 292.7, letter: "G", letterX: 226.5, letterY: 275,
  });
const buildI = (b: Box) =>
  buildKM(b, [-5.2, 127.7], [-0.049, 1.0236], g84HighT, g84HighS, g84LowT, g84LowS, {
    yLabR: 476.7, survX: 451.5, timeX: 571.7, p: "p = 0.017", pX: 503.3, legX: 610, legY: 291.7, letter: "I", letterX: 446.5, letterY: 273,
  });
const buildEt = (b: Box) => buildRisk(b, [-6.8, 124.1], [-0.69, 1.193], tcgaAtRiskHigh, tcgaAtRiskLow, { rowR: 28.3, numX: 30 });
const buildGt = (b: Box) => buildRisk(b, [-5.9, 123.0], [-0.69, 1.193], g15AtRiskHigh, g15AtRiskLow, { rowR: 244, numX: 246.7 });
const buildIt = (b: Box) => buildRisk(b, [-5.9, 123.7], [-0.69, 1.193], g84AtRiskHigh, g84AtRiskLow, { rowR: 467.5, numX: 470 });
const buildF = (b: Box) =>
  buildROC(b, [-0.036, 1.0343], [-0.02, 1.034], [[tcga12Fpr, tcga12Tpr], [tcga36Fpr, tcga36Tpr], [tcga60Fpr, tcga60Tpr]], tcgaAuc, {
    yLabX: 19.7, sensX: 6.7, title: "TCGA", titleX: 110, leg: [0.505, 0.508], letter: "F", letterX: 5,
  });
const buildH = (b: Box) =>
  buildROC(b, [-0.034, 1.032], [-0.026, 1.046], [[g15_12Fpr, g15_12Tpr], [g15_36Fpr, g15_36Tpr], [g15_60Fpr, g15_60Tpr]], g15Auc, {
    yLabX: 239.5, sensX: 228.3, title: "GSE15459", titleX: 346.5, leg: [0.504, 0.506], letter: "H", letterX: 227.5,
  });
const buildJ = (b: Box) =>
  buildROC(b, [-0.0225, 1.0405], [-0.026, 1.017], [[g84_12Fpr, g84_12Tpr], [g84_36Fpr, g84_36Tpr], [g84_60Fpr, g84_60Tpr]], g84Auc, {
    yLabX: 462, sensX: 451, title: "GSE84437", titleX: 565, leg: [0.516, 0.504], letter: "J", letterX: 449,
  });

export default function App() {
  return (
    <div style={{ position: "absolute", left: 0, top: 0, width: 663, height: 767, background: "#fff", overflow: "hidden" }}>
      <ChartBox box={boxA} build={buildA} />
      <ChartBox box={boxB} build={buildB} />
      <ChartBox box={boxC} build={buildC} />
      <ChartBox box={boxD} build={buildD} />
      <ChartBox box={boxE} build={buildE} />
      <ChartBox box={boxG} build={buildG} />
      <ChartBox box={boxI} build={buildI} />
      <ChartBox box={boxEt} build={buildEt} />
      <ChartBox box={boxGt} build={buildGt} />
      <ChartBox box={boxIt} build={buildIt} />
      <ChartBox box={boxF} build={buildF} />
      <ChartBox box={boxH} build={buildH} />
      <ChartBox box={boxJ} build={buildJ} />
    </div>
  );
}
